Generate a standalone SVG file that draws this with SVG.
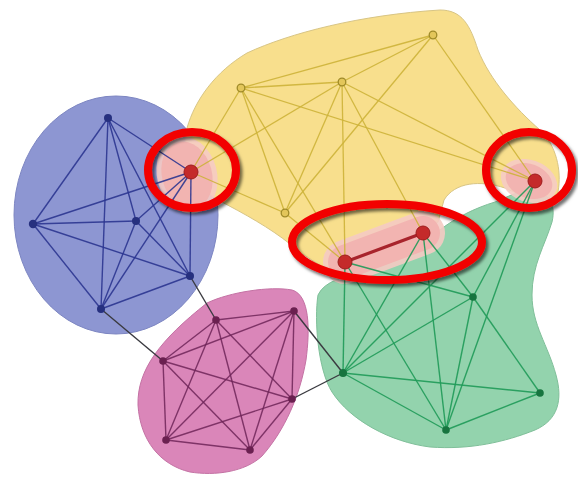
<svg xmlns="http://www.w3.org/2000/svg" width="578" height="478" viewBox="0 0 578 478">
<defs>
<filter id="sh" x="-20%" y="-30%" width="140%" height="160%">
<feDropShadow dx="2.5" dy="3" stdDeviation="1.5" flood-color="#000" flood-opacity="0.55"/>
</filter>
</defs>
<style>
.bl{stroke:#2b3590;stroke-width:1.4;fill:none;stroke-opacity:0.9}
.ye{stroke:#cdb238;stroke-width:1.3;fill:none;stroke-opacity:0.9}
.pk{stroke:#6e2458;stroke-width:1.4;fill:none;stroke-opacity:0.85}
.gr{stroke:#1f9a58;stroke-width:1.4;fill:none;stroke-opacity:0.9}
.x{stroke:#3a3a40;stroke-width:1.4;fill:none}
.nb{fill:#26307f}
.ny{fill:#e3c65a;stroke:#9f8a28;stroke-width:1.3}
.np{fill:#6a2050}
.ng{fill:#17743f}
.nr{fill:#c42a2a;stroke:#9e1c1c;stroke-width:1}
.hl{fill:none;stroke:#f20000;stroke-width:8;filter:url(#sh)}
</style>
<rect width="578" height="478" fill="#ffffff"/>
<g id="hulls">
<ellipse id="hull-blue" cx="116" cy="215" rx="102" ry="119" fill="#8d96d2" stroke="#7d86c2" stroke-width="1"/>
<path id="hull-yellow" d="M 187,128 C 195,100 215,72 247,53 C 290,33 360,15 440,10 C 462,10 470,25 478,50 C 490,80 515,108 540,130 C 556,145 562,170 558,192 C 552,202 530,200 505,188 C 480,180 455,182 444,200 L 438,222 L 340,278 C 315,262 298,252 290,244 C 270,228 245,214 218,200 C 200,190 180,160 187,128 Z" fill="#f8df8d" stroke="#d8c585" stroke-width="1"/>
<path id="hull-pink" d="M 207,303 C 230,292 270,286 292,290 C 310,295 310,330 306,360 C 300,395 285,430 262,456 C 245,472 215,476 190,472 C 160,465 140,440 138,405 C 137,370 160,340 207,303 Z" fill="#da86b9" stroke="#c472a4" stroke-width="1"/>
<path id="hull-green" d="M 318,295 C 325,280 345,278 360,270 L 440,230 C 455,218 475,208 495,202 C 510,196 520,190 530,190 C 550,192 556,205 552,222 C 545,245 532,265 532,295 C 532,325 548,345 556,375 C 563,400 558,420 535,430 C 505,442 470,450 430,447 C 390,442 350,420 332,392 C 318,370 314,320 318,295 Z" fill="#93d3ad" stroke="#7fbf99" stroke-width="1"/>
<g id="overlaps">
<ellipse cx="187" cy="175" rx="30" ry="39" transform="rotate(-15 187 175)" fill="#f5cbc4" opacity="0.9"/>
<ellipse cx="187" cy="175" rx="25" ry="34" transform="rotate(-15 187 175)" fill="#f2b4b1"/>
<ellipse cx="529" cy="181" rx="29" ry="21" transform="rotate(20 529 181)" fill="#f5cbc4" opacity="0.9"/>
<ellipse cx="529" cy="181" rx="24" ry="17" transform="rotate(20 529 181)" fill="#f2b4b1"/>
<line x1="345" y1="262" x2="423" y2="233" stroke="#f5cbc4" stroke-width="44" stroke-linecap="round" opacity="0.9"/>
<line x1="345" y1="262" x2="423" y2="233" stroke="#f2b4b1" stroke-width="34" stroke-linecap="round"/>
</g>
</g>
<g id="connectors">
<g id="edges-blue">
<line class="bl" x1="108" y1="118" x2="33" y2="224"/>
<line class="bl" x1="108" y1="118" x2="136" y2="221"/>
<line class="bl" x1="108" y1="118" x2="190" y2="276"/>
<line class="bl" x1="108" y1="118" x2="101" y2="309"/>
<line class="bl" x1="108" y1="118" x2="191" y2="172"/>
<line class="bl" x1="33" y1="224" x2="136" y2="221"/>
<line class="bl" x1="33" y1="224" x2="190" y2="276"/>
<line class="bl" x1="33" y1="224" x2="101" y2="309"/>
<line class="bl" x1="33" y1="224" x2="191" y2="172"/>
<line class="bl" x1="136" y1="221" x2="190" y2="276"/>
<line class="bl" x1="136" y1="221" x2="101" y2="309"/>
<line class="bl" x1="136" y1="221" x2="191" y2="172"/>
<line class="bl" x1="190" y1="276" x2="101" y2="309"/>
<line class="bl" x1="190" y1="276" x2="191" y2="172"/>
<line class="bl" x1="101" y1="309" x2="191" y2="172"/>
</g>
<g id="edges-yellow">
<line class="ye" x1="241" y1="88" x2="342" y2="82"/>
<line class="ye" x1="241" y1="88" x2="433" y2="35"/>
<line class="ye" x1="342" y1="82" x2="433" y2="35"/>
<line class="ye" x1="241" y1="88" x2="285" y2="213"/>
<line class="ye" x1="342" y1="82" x2="285" y2="213"/>
<line class="ye" x1="433" y1="35" x2="285" y2="213"/>
<line class="ye" x1="241" y1="88" x2="191" y2="172"/>
<line class="ye" x1="342" y1="82" x2="191" y2="172"/>
<line class="ye" x1="285" y1="213" x2="191" y2="172"/>
<line class="ye" x1="241" y1="88" x2="535" y2="181"/>
<line class="ye" x1="342" y1="82" x2="535" y2="181"/>
<line class="ye" x1="433" y1="35" x2="535" y2="181"/>
<line class="ye" x1="342" y1="82" x2="423" y2="233"/>
<line class="ye" x1="342" y1="82" x2="345" y2="262"/>
<line class="ye" x1="241" y1="88" x2="345" y2="262"/>
<line class="ye" x1="285" y1="213" x2="345" y2="262"/>
</g>
<g id="edges-pink">
<line class="pk" x1="216" y1="320" x2="294" y2="311"/>
<line class="pk" x1="216" y1="320" x2="163" y2="361"/>
<line class="pk" x1="216" y1="320" x2="292" y2="399"/>
<line class="pk" x1="216" y1="320" x2="166" y2="440"/>
<line class="pk" x1="216" y1="320" x2="250" y2="450"/>
<line class="pk" x1="294" y1="311" x2="163" y2="361"/>
<line class="pk" x1="294" y1="311" x2="292" y2="399"/>
<line class="pk" x1="294" y1="311" x2="166" y2="440"/>
<line class="pk" x1="294" y1="311" x2="250" y2="450"/>
<line class="pk" x1="163" y1="361" x2="292" y2="399"/>
<line class="pk" x1="163" y1="361" x2="166" y2="440"/>
<line class="pk" x1="163" y1="361" x2="250" y2="450"/>
<line class="pk" x1="292" y1="399" x2="166" y2="440"/>
<line class="pk" x1="292" y1="399" x2="250" y2="450"/>
<line class="pk" x1="166" y1="440" x2="250" y2="450"/>
</g>
<g id="edges-green">
<line class="gr" x1="473" y1="297" x2="343" y2="373"/>
<line class="gr" x1="473" y1="297" x2="540" y2="393"/>
<line class="gr" x1="473" y1="297" x2="446" y2="430"/>
<line class="gr" x1="343" y1="373" x2="540" y2="393"/>
<line class="gr" x1="343" y1="373" x2="446" y2="430"/>
<line class="gr" x1="540" y1="393" x2="446" y2="430"/>
<line class="gr" x1="343" y1="373" x2="345" y2="262"/>
<line class="gr" x1="343" y1="373" x2="423" y2="233"/>
<line class="gr" x1="343" y1="373" x2="535" y2="181"/>
<line class="gr" x1="446" y1="430" x2="345" y2="262"/>
<line class="gr" x1="446" y1="430" x2="423" y2="233"/>
<line class="gr" x1="446" y1="430" x2="535" y2="181"/>
<line class="gr" x1="473" y1="297" x2="535" y2="181"/>
<line class="gr" x1="473" y1="297" x2="345" y2="262"/>
<line class="gr" x1="473" y1="297" x2="423" y2="233"/>
</g>
<g id="edges-between">
<line class="x" x1="190" y1="276" x2="216" y2="320"/>
<line class="x" x1="101" y1="309" x2="163" y2="361"/>
<line class="x" x1="294" y1="311" x2="343" y2="373"/>
<line class="x" x1="292" y1="399" x2="343" y2="373"/>
</g>
<line id="edge-r3-r4" x1="345" y1="262" x2="423" y2="233" stroke="#a8242c" stroke-width="3.2"/>
</g>
<g id="nodes">
<g id="b1"><circle class="nb" cx="108" cy="118" r="4"/></g>
<g id="b2"><circle class="nb" cx="33" cy="224" r="4.2"/></g>
<g id="b3"><circle class="nb" cx="136" cy="221" r="4"/></g>
<g id="b4"><circle class="nb" cx="190" cy="276" r="4"/></g>
<g id="b5"><circle class="nb" cx="101" cy="309" r="4"/></g>
<g id="y1"><circle class="ny" cx="241" cy="88" r="3.8"/></g>
<g id="y2"><circle class="ny" cx="342" cy="82" r="3.8"/></g>
<g id="y3"><circle class="ny" cx="433" cy="35" r="3.8"/></g>
<g id="y4"><circle class="ny" cx="285" cy="213" r="3.8"/></g>
<g id="p1"><circle class="np" cx="216" cy="320" r="3.8"/></g>
<g id="p2"><circle class="np" cx="294" cy="311" r="3.8"/></g>
<g id="p3"><circle class="np" cx="163" cy="361" r="3.8"/></g>
<g id="p4"><circle class="np" cx="292" cy="399" r="3.8"/></g>
<g id="p5"><circle class="np" cx="166" cy="440" r="3.8"/></g>
<g id="p6"><circle class="np" cx="250" cy="450" r="3.8"/></g>
<g id="g1"><circle class="ng" cx="473" cy="297" r="3.8"/></g>
<g id="g2"><circle class="ng" cx="343" cy="373" r="4"/></g>
<g id="g3"><circle class="ng" cx="540" cy="393" r="3.8"/></g>
<g id="g4"><circle class="ng" cx="446" cy="430" r="3.8"/></g>
<g id="r1"><circle class="nr" cx="191" cy="172" r="7"/></g>
<g id="r2"><circle class="nr" cx="535" cy="181" r="7"/></g>
<g id="r3"><circle class="nr" cx="423" cy="233" r="7"/></g>
<g id="r4"><circle class="nr" cx="345" cy="262" r="7"/></g>
</g>
<g id="highlights">
<ellipse class="hl" cx="192" cy="170" rx="44" ry="38"/>
<ellipse class="hl" cx="529" cy="170" rx="43" ry="38"/>
<ellipse class="hl" cx="387" cy="242" rx="95" ry="38"/>
</g>
</svg>
